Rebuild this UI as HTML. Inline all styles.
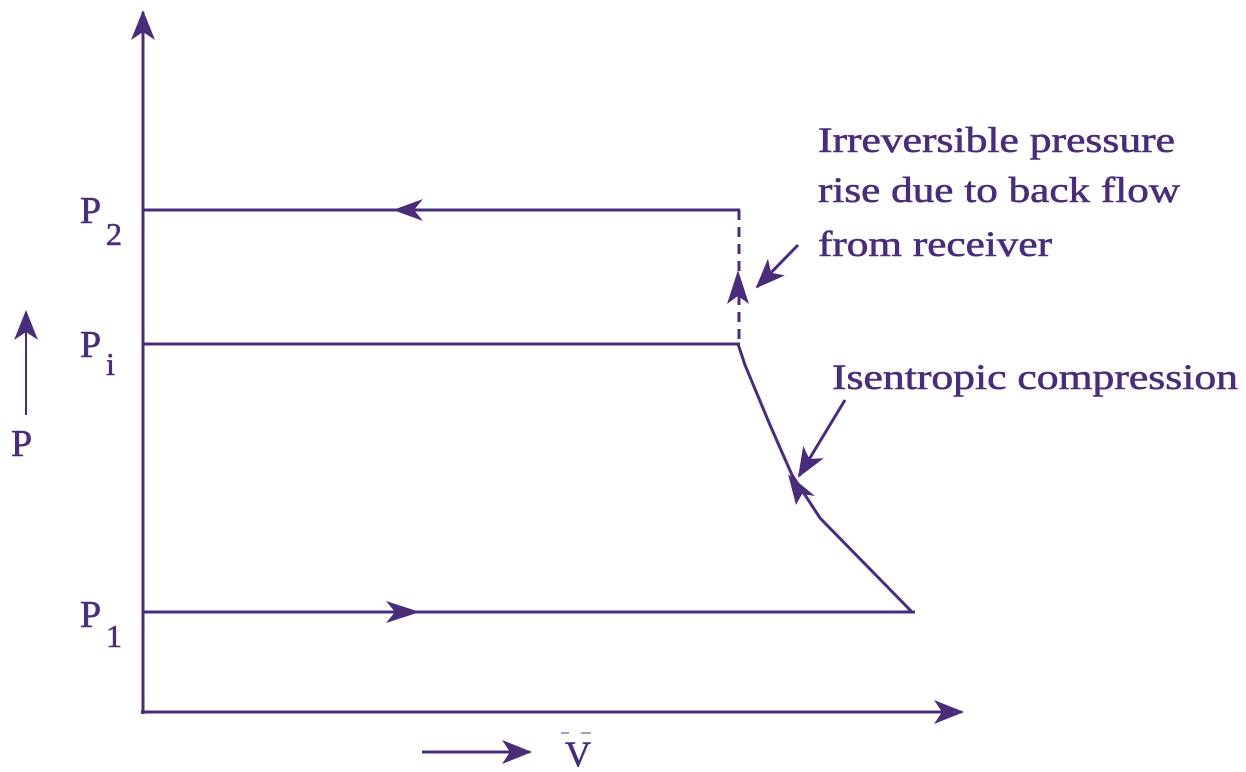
<!DOCTYPE html>
<html><head><meta charset="utf-8"><style>html,body{margin:0;padding:0;background:#fff}svg{display:block}
.t{font-family:"Liberation Serif","Times New Roman",Times,serif}</style></head><body>
<svg width="1246" height="772" viewBox="0 0 1246 772" xmlns="http://www.w3.org/2000/svg">
<defs>
<marker id="ah" viewBox="0 0 30 24" refX="28" refY="12" markerWidth="30" markerHeight="24" markerUnits="userSpaceOnUse" orient="auto">
<path d="M0,0 L30,12 L0,24 L8,12 Z" fill="#4a2d7a"/></marker>
</defs>
<g stroke="#4a2d7a" stroke-width="3" fill="none">
<line x1="143" y1="714" x2="143" y2="12" marker-end="url(#ah)"/>
<line x1="141" y1="712" x2="962" y2="712" marker-end="url(#ah)"/>
<line x1="143" y1="210" x2="740" y2="210"/>
<line x1="143" y1="344" x2="740" y2="344"/>
<line x1="143" y1="612" x2="915" y2="612"/>
<line x1="739" y1="210" x2="739" y2="344" stroke-dasharray="10,7"/>
<path d="M738,344 L745,365 L770,425 L792,475 L820,518 L912,612"/>
<line x1="798" y1="245" x2="757" y2="287" marker-end="url(#ah)"/>
<line x1="845" y1="400" x2="799" y2="476" marker-end="url(#ah)"/>
<line x1="26" y1="415" x2="26" y2="312" stroke-width="2" marker-end="url(#ah)"/>
<line x1="422" y1="752" x2="530" y2="752" marker-end="url(#ah)"/>
</g>
<g fill="#4a2d7a" stroke="none">
<path d="M393,210 L423,199 L414,210 L423,221 Z"/>
<path d="M420,612 L386,601 L395,612 L386,623 Z"/>
<path d="M738,270 L749,304 L738,296 L727,304 Z"/>
<path d="M788,474 L815,496 L802,494 L796,505 Z"/>
</g>
<g class="t" fill="#4a2d7a" stroke="#4a2d7a" stroke-width="0.6">
<text x="818" y="152" font-size="36" textLength="357" lengthAdjust="spacingAndGlyphs">Irreversible pressure</text>
<text x="818" y="202" font-size="36" textLength="362" lengthAdjust="spacingAndGlyphs">rise due to back flow</text>
<text x="818" y="256" font-size="36" textLength="234" lengthAdjust="spacingAndGlyphs">from receiver</text>
<text x="832" y="389" font-size="36" textLength="406" lengthAdjust="spacingAndGlyphs">Isentropic compression</text>
<text x="80" y="223" font-size="38">P</text><text x="106" y="245" font-size="32">2</text>
<text x="80" y="357" font-size="38">P</text><text x="106" y="375" font-size="32">i</text>
<text x="80" y="627" font-size="38">P</text><text x="106" y="647" font-size="32">1</text>
<text x="11" y="456" font-size="38">P</text>
<text x="565" y="766" font-size="36">V</text>
</g>
<line x1="561" y1="733" x2="569" y2="733" stroke="#8f7fb0" stroke-width="1.5"/>
<line x1="581" y1="733" x2="591" y2="733" stroke="#8f7fb0" stroke-width="1.5"/>
</svg>
</body></html>
